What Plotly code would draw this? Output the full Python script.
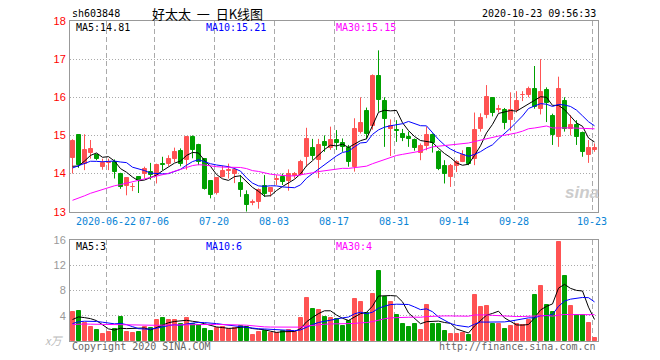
import numpy as np
import plotly.graph_objects as go

# ---------------- data ----------------
dates = (["2020-06-12", "2020-06-15", "2020-06-16", "2020-06-17", "2020-06-18", "2020-06-19",
          "2020-06-22", "2020-06-23", "2020-06-24", "2020-06-29", "2020-06-30",
          "2020-07-01", "2020-07-02", "2020-07-03"]
         + [f"2020-07-{d:02d}" for d in (6, 7, 8, 9, 10, 13, 14, 15, 16, 17, 20, 21, 22, 23, 24, 27, 28, 29, 30, 31)]
         + [f"2020-08-{d:02d}" for d in (3, 4, 5, 6, 7, 10, 11, 12, 13, 14, 17, 18, 19, 20, 21, 24, 25, 26, 27, 28, 31)]
         + [f"2020-09-{d:02d}" for d in (1, 2, 3, 4, 7, 8, 9, 10, 11, 14, 15, 16, 17, 18, 21, 22, 23, 24, 25, 28, 29, 30)]
         + [f"2020-10-{d:02d}" for d in (9, 12, 13, 14, 15, 16, 19, 20, 21, 22, 23)])

open_ = [14.40, 15.00, 14.26, 14.53, 14.48, 14.18, 14.29, 14.31, 14.00, 13.67,
         13.64, 13.91, 14.00, 14.03, 13.96, 14.25, 14.24, 14.37, 14.60, 14.35,
         14.95, 14.75, 14.37, 13.80, 13.50, 13.91, 14.08, 13.98, 13.74, 13.45,
         13.24, 13.25, 13.67, 13.52, 13.83, 13.90, 13.81, 13.93, 13.96, 14.44,
         14.68, 14.36, 14.84, 14.66, 14.88, 14.79, 14.66, 14.18, 15.10, 15.65,
         15.25, 16.55, 15.91, 15.16, 15.13, 15.04, 14.95, 14.89, 14.54, 14.72,
         15.01, 14.56, 14.21, 13.91, 14.19, 14.31, 14.66, 14.39, 15.18, 15.54,
         15.97, 15.67, 15.67, 15.40, 15.67, 16.05, 16.06, 16.22, 15.70, 16.20,
         15.52, 14.96, 15.89, 15.17, 15.27, 15.07, 14.48, 14.63]
high = [14.90, 15.02, 15.03, 14.88, 14.52, 14.39, 14.39, 14.37, 14.02, 13.90,
        13.75, 13.93, 14.18, 14.28, 14.26, 14.44, 14.48, 14.68, 14.66, 14.97,
        15.00, 14.78, 14.40, 13.80, 13.90, 14.20, 14.26, 14.15, 13.96, 13.56,
        13.32, 13.61, 13.96, 13.65, 13.96, 14.00, 14.11, 14.04, 14.36, 15.20,
        14.91, 14.91, 15.00, 15.23, 15.14, 14.92, 14.75, 15.45, 16.00, 15.73,
        16.60, 17.23, 16.00, 15.42, 15.40, 15.17, 15.10, 14.92, 14.79, 15.23,
        15.05, 14.61, 14.35, 14.25, 14.35, 14.61, 14.66, 15.60, 15.58, 16.32,
        16.00, 15.80, 15.72, 16.13, 16.16, 16.16, 16.28, 16.82, 17.00, 16.26,
        15.57, 16.54, 16.00, 15.53, 15.40, 15.10, 14.88, 14.79]
low = [14.00, 14.15, 14.09, 14.39, 14.35, 14.10, 14.09, 13.87, 13.60, 13.43,
       13.54, 13.49, 13.87, 13.84, 13.74, 14.09, 14.20, 14.30, 14.19, 14.10,
       14.40, 14.22, 13.58, 13.35, 13.45, 13.90, 13.87, 13.75, 13.39, 13.00,
       13.17, 13.08, 13.39, 13.40, 13.70, 13.70, 13.55, 13.87, 13.95, 14.18,
       14.36, 13.88, 14.57, 14.62, 14.62, 14.57, 14.18, 14.05, 15.05, 14.90,
       15.15, 15.62, 14.70, 14.46, 14.83, 14.85, 14.70, 14.60, 14.35, 14.61,
       14.55, 14.09, 13.74, 13.65, 14.04, 14.30, 14.22, 14.22, 15.10, 15.45,
       15.50, 15.60, 15.16, 15.12, 15.60, 15.90, 16.00, 15.70, 15.55, 15.35,
       14.75, 14.70, 15.10, 15.00, 14.75, 14.44, 14.28, 14.57]
close = [14.86, 14.22, 14.61, 14.64, 14.37, 14.29, 14.31, 14.03, 13.65, 13.89,
         13.66, 13.82, 14.13, 13.97, 14.22, 14.23, 14.38, 14.57, 14.24, 14.95,
         14.63, 14.31, 13.60, 13.45, 13.89, 14.06, 14.10, 14.10, 13.56, 13.17,
         13.26, 13.58, 13.47, 13.61, 13.85, 13.79, 14.00, 14.00, 14.31, 14.91,
         14.46, 14.75, 14.72, 14.88, 14.81, 14.70, 14.31, 15.16, 15.33, 15.05,
         16.56, 15.93, 15.43, 15.25, 15.11, 14.94, 14.90, 14.66, 14.72, 15.01,
         14.79, 14.13, 13.98, 14.19, 14.31, 14.48, 14.26, 15.14, 15.45, 16.00,
         15.60, 15.69, 15.32, 15.66, 15.91, 16.07, 16.22, 15.74, 16.13, 15.84,
         15.01, 16.22, 15.18, 15.27, 14.96, 14.57, 14.68, 14.66]
volume = [4.53, 4.69, 2.83, 2.29, 1.81, 1.17, 1.49, 1.92, 3.73, 1.49,
          1.33, 1.49, 2.29, 2.13, 3.25, 3.57, 3.25, 3.25, 2.77, 3.57,
          2.77, 2.61, 1.97, 1.65, 2.13, 2.29, 1.97, 2.13, 2.45, 2.29,
          1.01, 1.49, 1.65, 1.33, 1.33, 1.55, 1.81, 1.49, 3.57, 6.77,
          5.01, 4.85, 3.73, 3.57, 3.41, 2.45, 3.09, 6.61, 6.13, 4.37,
          7.41, 11.09, 6.99, 6.13, 4.05, 2.77, 2.29, 2.77, 1.81, 5.65,
          2.77, 2.77, 1.65, 1.17, 1.17, 1.33, 1.01, 7.25, 5.33, 5.49,
          2.77, 2.77, 1.97, 2.45, 2.77, 2.61, 3.25, 7.25, 8.69, 5.65,
          4.53, 15.73, 10.29, 5.49, 4.05, 4.05, 2.93, 0.53]
# sessions before the visible window (needed for the moving averages; estimated)
prior_close = [12.60, 12.70, 12.65, 12.80, 12.75, 12.70, 12.85, 12.70, 12.75, 12.80,
               12.85, 12.90, 13.00, 12.95, 13.05, 13.10, 13.00, 13.05, 13.20, 13.10,
               13.60, 13.90, 14.20, 14.40, 14.40, 14.20, 13.95, 13.90, 14.05]
prior_volume = [2.2, 2.8, 3.1, 2.4, 2.0, 2.6, 3.3, 2.9, 2.1, 1.8,
                2.5, 2.7, 2.3, 2.9, 3.0, 2.4, 2.2, 2.6, 2.5, 2.3,
                2.0, 1.9, 2.3, 2.2, 2.3, 2.6, 3.4, 3.1, 3.37]

tick_dates = ["2020-06-22", "2020-07-06", "2020-07-20", "2020-08-03", "2020-08-17",
              "2020-08-31", "2020-09-14", "2020-09-28", "2020-10-23"]
tick_labels = ["2020-06-22", "07-06", "07-20", "08-03", "08-17", "08-31", "09-14", "09-28", "10-23"]
price_ticks = [13, 14, 15, 16, 17, 18]
volume_ticks = [4, 8, 12, 16]
price_ma_labels = ["MA5:14.81", "MA10:15.21", "MA30:15.15"]
volume_ma_labels = ["MA5:3", "MA10:6", "MA30:4"]

# ---------------- styling ----------------
RED, GREEN = "#ff5353", "#00a000"
MA_COLORS = ["#000000", "#0000ff", "#ff00ff"]
MONO = "DejaVu Sans Mono"
GRID = "#aaaaaa"
FRAME = "#999999"

n = len(close)
idx = np.arange(n)
up = [c >= o for o, c in zip(open_, close)]
colors = [RED if u else GREEN for u in up]


def moving(series_prior, series, w):
    full = np.array(series_prior + series, dtype=float)
    off = len(series_prior)
    return [full[off + i - w + 1: off + i + 1].mean() for i in range(len(series))]


# pixel helpers for paper coordinates (plot area x 70..598, y 21..341)
L_, R_, T_, B_ = 70, 598, 21, 341
def px(x):
    return (x - L_) / (R_ - L_)
def py(y):
    return (B_ - y) / (B_ - T_)

fig = go.Figure()

# wicks
for colr in (RED, GREEN):
    wx, wy = [], []
    for i in range(n):
        if colors[i] == colr:
            wx += [i, i, None]
            wy += [low[i], high[i], None]
    fig.add_trace(go.Scatter(x=wx, y=wy, mode="lines", line=dict(color=colr, width=1),
                             hoverinfo="skip", showlegend=False, xaxis="x", yaxis="y"))

body_base = [min(o, c) for o, c in zip(open_, close)]
body_h = [max(abs(c - o), 0.005) for o, c in zip(open_, close)]
fig.add_trace(go.Bar(x=idx, y=body_h, base=body_base, width=4 / 6,
                     marker=dict(color=colors, line=dict(color=colors, width=1)),
                     showlegend=False, xaxis="x", yaxis="y"))

for w, colr in zip((5, 10, 30), MA_COLORS):
    fig.add_trace(go.Scatter(x=idx, y=moving(prior_close, close, w), mode="lines",
                             line=dict(color=colr, width=1), showlegend=False,
                             xaxis="x", yaxis="y"))

# volume
fig.add_trace(go.Bar(x=idx, y=volume, width=4 / 6,
                     marker=dict(color=colors, line=dict(color=colors, width=1)),
                     showlegend=False, xaxis="x2", yaxis="y2"))
for w, colr in zip((5, 10, 30), MA_COLORS):
    fig.add_trace(go.Scatter(x=idx, y=moving(prior_volume, volume, w), mode="lines",
                             line=dict(color=colr, width=1), showlegend=False,
                             xaxis="x2", yaxis="y2"))

tick_pos = [dates.index(d) - 0.4167 for d in tick_dates]
xr = [-0.4167, n - 0.4167]

common_x = dict(range=xr, tickvals=tick_pos, showgrid=True, gridcolor=GRID,
                griddash="5px,3px", gridwidth=1, zeroline=False, showline=True,
                mirror=True, linecolor=FRAME, linewidth=1, ticks="")
common_y = dict(showgrid=True, gridcolor=GRID, griddash="1px,2px", gridwidth=1,
                zeroline=False, showline=True, mirror=True, linecolor=FRAME,
                linewidth=1, ticks="", ticklabelstandoff=1)

main_bottom = py(211.7)
vol_top = py(240)

fig.update_layout(
    width=660, height=360,
    margin=dict(l=L_, r=660 - R_, t=T_, b=360 - B_),
    paper_bgcolor="white", plot_bgcolor="white",
    barmode="overlay", bargap=0, showlegend=False,
    xaxis=dict(**common_x, anchor="y", domain=[0, 1], ticktext=tick_labels,
               tickfont=dict(family=MONO, size=10, color="#0a84d6"), ticklabelstandoff=0),
    yaxis=dict(**common_y, domain=[main_bottom, 1], range=[13, 18], tickvals=price_ticks,
               tickfont=dict(family="Liberation Sans", size=11, color="#ff0000")),
    xaxis2=dict(**common_x, anchor="y2", domain=[0, 1], showticklabels=False),
    yaxis2=dict(**common_y, domain=[0, vol_top], range=[0, 16], tickvals=volume_ticks,
                tickfont=dict(family="Liberation Sans", size=11, color="#999999")),
)

ann = []
def text(x, y, s, color="#000000", anchor="left", size=10, family=MONO, **kw):
    ann.append(dict(x=px(x), y=py(y), xref="paper", yref="paper", text=s, showarrow=False,
                    xanchor=anchor, yanchor="middle",
                    font=dict(family=family, size=size, color=color), **kw))

text(70, 13, "sh603848")
text(150, 13, "好太太 &nbsp;一 &nbsp;日K线图", family="Noto Sans CJK SC", size=13)
text(598, 13, "2020-10-23 09:56:33", anchor="right")
for xx, s, c in zip((74, 204, 334), price_ma_labels, MA_COLORS):
    text(xx, 27, s, color=c)
for xx, s, c in zip((74, 204, 334), volume_ma_labels, MA_COLORS):
    text(xx, 246.5, s, color=c)
text(70, 346, "Copyright 2020 SINA.COM", color="#666666")
text(598, 346, "http://finance.sina.com.cn", color="#666666", anchor="right")
text(65, 340, "<i>x万</i>", color="#bbbbbb", anchor="right", size=11, family="Noto Sans CJK SC")
text(582, 192, "<b><i>sina</i></b>", color="#cccccc", anchor="center", size=17, family="Liberation Sans")
fig.update_layout(annotations=ann)

fig.write_html("out.html", config={"displayModeBar": False},
               post_script="document.body.style.margin='0';")
